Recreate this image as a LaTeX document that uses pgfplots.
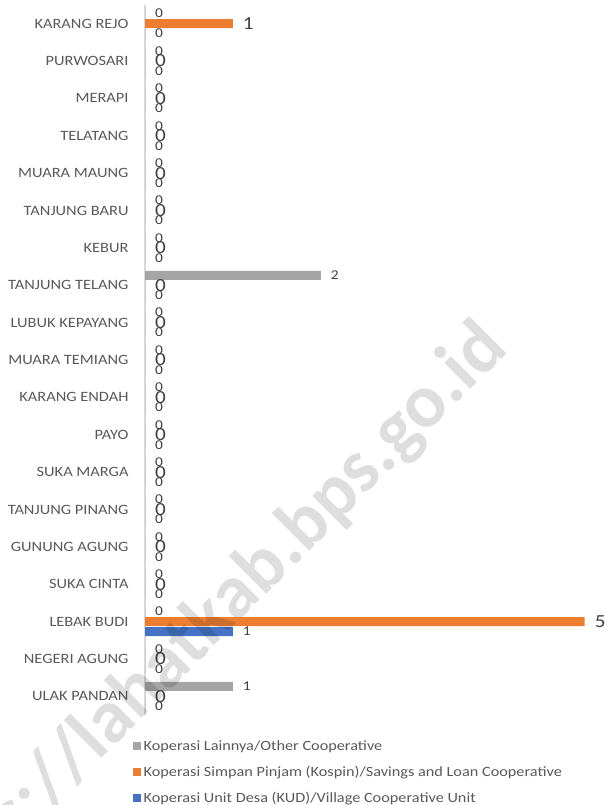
\documentclass[border=0pt]{standalone}
\usepackage{fontspec}
\setmainfont{Carlito}[FakeStretch=1.15]
\newfontfamily\wmfont{Carlito}
\usepackage{pgfplots}
\pgfplotsset{compat=1.18}
\definecolor{cgrey}{HTML}{A5A5A5}
\definecolor{corange}{HTML}{ED7D31}
\definecolor{cblue}{HTML}{4472C4}
\definecolor{ctext}{HTML}{595959}
\definecolor{clab}{HTML}{404040}
\definecolor{caxis}{HTML}{D9D9D9}
\begin{document}
\begin{tikzpicture}[x=1bp,y=1bp]
\useasboundingbox (0,0) rectangle (605,805);
\begin{axis}[
  at={(145bp,90bp)}, anchor=south west,
  scale only axis, width=445bp, height=710bp,
  xbar, bar width=9bp,
  xmin=0, xmax=5.06, ymin=-0.5, ymax=18.5,
  axis x line=none,
  axis y line*=left,
  y axis line style={draw=caxis, line width=1.2bp, -},
  ytick={0,...,18},
  yticklabels={ULAK PANDAN, NEGERI AGUNG, LEBAK BUDI, SUKA CINTA, GUNUNG AGUNG, TANJUNG PINANG, SUKA MARGA, PAYO, KARANG ENDAH, MUARA TEMIANG, LUBUK KEPAYANG, TANJUNG TELANG, KEBUR, TANJUNG BARU, MUARA MAUNG, TELATANG, MERAPI, PURWOSARI, KARANG REJO},
  major tick length=0pt,
  yticklabel style={font=\fontsize{14.3}{15}\selectfont, text=ctext, xshift=-13bp},
  /pgf/number format/assume math mode=true,
  nodes near coords,
  nodes near coords style={font=\fontsize{13.5}{13.5}\selectfont, text=clab, xshift=6.5bp},
  legend style={at={(axis description cs:-0.027,-0.0325)}, anchor=north west, draw=none, fill=none, inner sep=0pt, font=\fontsize{14.2}{15}\selectfont, text=ctext, row sep=9bp, cells={anchor=west}, nodes={inner sep=2.5bp}},
  legend image code/.code={\fill[#1] (0bp,-4bp) rectangle (8bp,4bp);},
]
\addplot[fill=cgrey, draw=none, bar shift=10bp] coordinates {
(1,0) (0,1) (0,2) (0,3) (0,4) (0,5) (0,6) (0,7) (0,8) (0,9) (0,10) (2,11) (0,12) (0,13) (0,14) (0,15) (0,16) (0,17) (0,18)};
\addlegendentry{Koperasi Lainnya/Other Cooperative}
\addplot[fill=corange, draw=none, bar shift=0bp, every node near coord/.append style={font=\fontsize{18.5}{18.5}\selectfont}] coordinates {
(0,0) (0,1) (5,2) (0,3) (0,4) (0,5) (0,6) (0,7) (0,8) (0,9) (0,10) (0,11) (0,12) (0,13) (0,14) (0,15) (0,16) (0,17) (1,18)};
\addlegendentry{Koperasi Simpan Pinjam (Kospin)/Savings and Loan Cooperative}
\addplot[fill=cblue, draw=none, bar shift=-10bp] coordinates {
(0,0) (0,1) (1,2) (0,3) (0,4) (0,5) (0,6) (0,7) (0,8) (0,9) (0,10) (0,11) (0,12) (0,13) (0,14) (0,15) (0,16) (0,17) (0,18)};
\addlegendentry{Koperasi Unit Desa (KUD)/Village Cooperative Unit}
\end{axis}
\node[rotate=45, text=black, opacity=0.13, font=\wmfont\fontsize{76}{76}\selectfont\bfseries] at (203,176) {https://lahatkab.bps.go.id};
\end{tikzpicture}
\end{document}
